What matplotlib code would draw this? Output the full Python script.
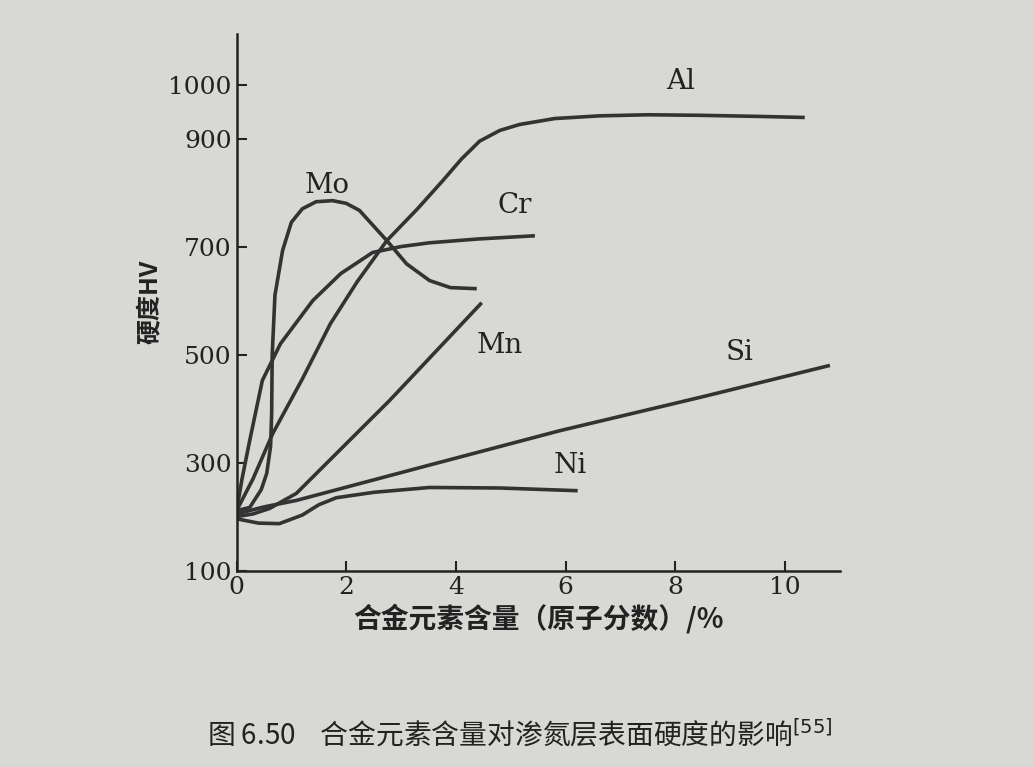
import matplotlib
matplotlib.use("Agg")
import matplotlib.pyplot as plt

plt.rcParams['font.family'] = ['Noto Sans CJK SC', 'DejaVu Sans']

al_x = [0, 0.3, 0.66, 1.2, 1.71, 2.2, 2.74, 3.3, 3.76, 4.1, 4.43, 4.8, 5.16, 5.8, 6.62, 7.5, 8.45, 9.5, 10.36]
al_y = [211, 270, 354, 455, 557, 635, 711, 770, 822, 862, 895, 915, 926, 937, 942, 944, 943, 941, 939]
mo_x = [0, 0.24, 0.45, 0.55, 0.62, 0.64, 0.65, 0.7, 0.84, 1.0, 1.2, 1.45, 1.75, 2.0, 2.24, 2.74, 3.1, 3.52, 3.9, 4.38]
mo_y = [211, 217, 250, 280, 330, 391, 500, 610, 693, 745, 770, 783, 785, 780, 767, 711, 668, 637, 624, 622]
cr_x = [0, 0.1, 0.24, 0.47, 0.8, 1.39, 1.9, 2.48, 3.0, 3.52, 4.4, 5.44]
cr_y = [211, 270, 341, 452, 520, 600, 650, 689, 700, 707, 714, 720]
mn_x = [0, 0.3, 0.6, 1.09, 2.79, 4.47]
mn_y = [200, 205, 215, 243, 415, 596]
si_x = [0, 0.5, 1.09, 3.5, 5.89, 8.5, 10.82]
si_y = [205, 218, 230, 295, 359, 422, 480]
ni_x = [0, 0.4, 0.78, 1.2, 1.5, 1.82, 2.5, 3.52, 4.8, 6.22]
ni_y = [196, 188, 187, 203, 222, 235, 245, 254, 253, 248]

labels = ['Al', 'Mo', 'Cr', 'Mn', 'Si', 'Ni']
label_x = [8.1, 1.66, 5.07, 4.8, 9.18, 6.08]
label_y = [1005, 813, 776, 517, 504, 294]

xticks = [0, 2, 4, 6, 8, 10]
yticks = [100, 300, 500, 700, 900, 1000]

bg = '#d8d8d5'
fig = plt.figure(figsize=(10.33, 7.67), dpi=100, facecolor=bg)
ax = fig.add_axes([0.229, 0.256, 0.584, 0.70], facecolor=bg)
for xs, ys in [(al_x, al_y), (mo_x, mo_y), (cr_x, cr_y), (mn_x, mn_y), (si_x, si_y), (ni_x, ni_y)]:
    ax.plot(xs, ys, color='#333333', lw=2.6, solid_capstyle='butt', solid_joinstyle='round')
for t, x, y in zip(labels, label_x, label_y):
    ax.text(x, y, t, fontsize=20, family='serif', color='#222222', ha='center', va='center')

ax.set_xlim(0, 11)
ax.set_ylim(100, 1094)
ax.set_xticks(xticks)
ax.set_yticks(yticks)
ax.tick_params(direction='in', labelsize=18, width=1.5, length=7, colors='#222222')
for lbl in ax.get_xticklabels() + ax.get_yticklabels():
    lbl.set_family('serif')
ax.spines['top'].set_visible(False)
ax.spines['right'].set_visible(False)
for s in ['left', 'bottom']:
    ax.spines[s].set_linewidth(1.8)
    ax.spines[s].set_color('#222222')
ax.set_ylabel('硬度HV', fontsize=18, color='#222222', fontweight='bold')
ax.set_xlabel('合金元素含量（原子分数）/%', fontsize=20, color='#222222', fontweight='bold')
fig.text(0.2, 0.03, '图 6.50    合金元素含量对渗氮层表面硬度的影响$^{[55]}$', fontsize=20, color='#222222')
fig.savefig('out.png', dpi=100, facecolor=bg)
